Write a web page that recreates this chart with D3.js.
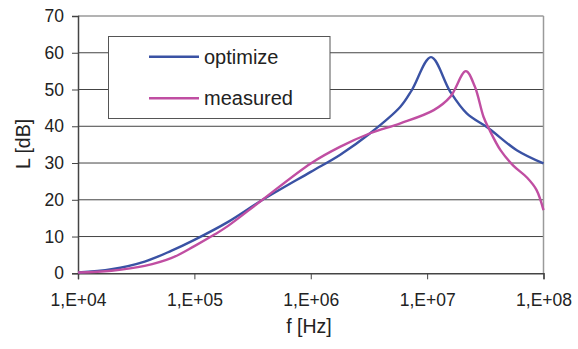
<!DOCTYPE html>
<html>
<head>
<meta charset="utf-8">
<script src="https://cdn.jsdelivr.net/npm/d3@7"></script>
<style>
  html, body { margin: 0; padding: 0; background: #fff; }
  svg { display: block; font-family: "Liberation Sans", Arial, sans-serif; }
</style>
</head>
<body>
<svg id="chart" width="578" height="349"></svg>
<script>
// Frequency sweep points (Hz) and levels (dB) for each curve
const freqOptimize = [1e4, 1.94e4, 3.74e4, 6.31e4, 1e5, 1.95e5, 3.77e5, 1e6, 1.78e6, 3.24e6, 5.89e6, 7.41e6, 1.08e7, 1.58e7, 2.19e7, 3.39e7, 5.89e7, 1e8];
const levelOptimize = [0.2, 1.1, 3.2, 6.1, 9.1, 14.0, 19.8, 27.6, 32.2, 38.1, 45.3, 49.9, 58.8, 49.4, 43.5, 39.4, 33.5, 29.9];

const freqMeasured = [1e4, 1.94e4, 3.74e4, 6.31e4, 1e5, 1.5e5, 1.95e5, 3.77e5, 1e6, 1.78e6, 3.24e6, 5.89e6, 1.14e7, 1.58e7, 2.15e7, 2.57e7, 3.05e7, 3.39e7, 4.27e7, 5.5e7, 7.24e7, 8.7e7, 1e8];
const levelMeasured = [0.2, 0.7, 2.0, 4.1, 7.4, 10.6, 12.9, 19.8, 29.9, 34.4, 38.1, 40.8, 44.4, 48.0, 55.0, 50.8, 42.6, 39.4, 33.5, 29.3, 26.0, 22.7, 17.2];

const xTicks = [1e4, 1e5, 1e6, 1e7, 1e8];
const xTickLabels = ["1,E+04", "1,E+05", "1,E+06", "1,E+07", "1,E+08"];
const yTicks = [0, 10, 20, 30, 40, 50, 60, 70];

const seriesNames = ["optimize", "measured"];
const seriesColors = ["#3a52a4", "#c04ea2"];

const svg = d3.select("#chart");
const plotLeft = 78, plotRight = 543.5, plotTop = 16, plotBottom = 273.3;

const x = d3.scaleLog().domain([1e4, 1e8]).range([plotLeft, plotRight]);
const y = d3.scaleLinear().domain([0, 70]).range([plotBottom, plotTop]);

// Horizontal gridlines
svg.append("g")
  .selectAll("line")
  .data(yTicks.filter(v => v > 0 && v < 70))
  .join("line")
  .attr("x1", plotLeft).attr("x2", plotRight)
  .attr("y1", d => y(d)).attr("y2", d => y(d))
  .attr("stroke", "#444").attr("stroke-width", 1);

// Plot frame: light top and right edges
svg.append("line").attr("x1", plotLeft).attr("x2", plotRight).attr("y1", plotTop).attr("y2", plotTop)
  .attr("stroke", "#9a9a9a").attr("stroke-width", 1.5);
svg.append("line").attr("x1", plotRight).attr("x2", plotRight).attr("y1", plotTop).attr("y2", plotBottom)
  .attr("stroke", "#9a9a9a").attr("stroke-width", 1.5);

// Y axis
const yAxis = d3.axisLeft(y).tickValues(yTicks).tickSize(6).tickPadding(8).tickFormat(d3.format("d"));
const gy = svg.append("g").attr("transform", `translate(${plotLeft},0)`).call(yAxis);
gy.select(".domain").attr("stroke", "#444").attr("stroke-width", 1.5);
gy.selectAll(".tick line").attr("stroke", "#444");
gy.selectAll(".tick text").attr("font-size", 17.5).attr("fill", "#222")
  .attr("font-family", "Liberation Sans, Arial, sans-serif");

// X axis
const xAxis = d3.axisBottom(x).tickValues(xTicks).tickSize(6).tickPadding(14)
  .tickFormat((d, i) => xTickLabels[i]);
const gx = svg.append("g").attr("transform", `translate(0,${plotBottom})`).call(xAxis);
gx.select(".domain").attr("stroke", "#444").attr("stroke-width", 1.5);
gx.selectAll(".tick line").attr("stroke", "#444");
gx.selectAll(".tick text").attr("font-size", 17.5).attr("fill", "#222")
  .attr("font-family", "Liberation Sans, Arial, sans-serif");

// Curves
const line = d3.line()
  .x(d => x(d[0]))
  .y(d => y(d[1]))
  .curve(d3.curveCatmullRom.alpha(0.5));

const series = [
  d3.zip(freqOptimize, levelOptimize),
  d3.zip(freqMeasured, levelMeasured)
];

svg.append("g")
  .selectAll("path")
  .data(series)
  .join("path")
  .attr("d", line)
  .attr("fill", "none")
  .attr("stroke", (d, i) => seriesColors[i])
  .attr("stroke-width", 2.4)
  .attr("stroke-linejoin", "round");

// Legend
const lg = svg.append("g");
lg.append("rect")
  .attr("x", 108.5).attr("y", 36.5).attr("width", 221.5).attr("height", 82)
  .attr("fill", "#fff").attr("stroke", "#555").attr("stroke-width", 1);
seriesNames.forEach((name, i) => {
  const ly = 56.7 + i * 41.6;
  lg.append("line").attr("x1", 149).attr("x2", 199).attr("y1", ly).attr("y2", ly)
    .attr("stroke", seriesColors[i]).attr("stroke-width", 2.4);
  lg.append("text").attr("x", 204).attr("y", ly + 7)
    .attr("font-size", 20).attr("fill", "#222").text(name);
});

// Axis titles
svg.append("text")
  .attr("transform", "translate(30,144) rotate(-90)")
  .attr("text-anchor", "middle").attr("font-size", 19.5).attr("fill", "#222")
  .text("L [dB]");
svg.append("text")
  .attr("x", 309).attr("y", 333)
  .attr("text-anchor", "middle").attr("font-size", 19.5).attr("fill", "#222")
  .text("f [Hz]");
</script>
</body>
</html>
